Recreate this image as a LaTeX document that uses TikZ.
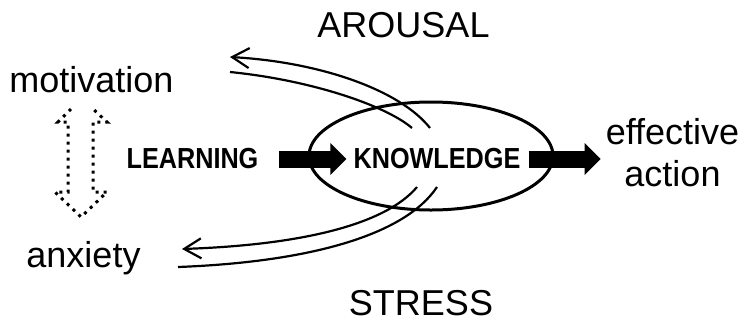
\documentclass[tikz,border=0pt]{standalone}
\usepackage{fontspec}
\setmainfont{Liberation Sans}
\newfontfamily\narrowsans[FakeStretch=0.87]{Liberation Sans}
\usetikzlibrary{arrows.meta,shapes.geometric}
\begin{document}
\begin{tikzpicture}[x=1pt,y=-1pt,
  label/.style={inner sep=0pt,anchor=base,font=\fontsize{36}{41.4}\selectfont},
  keyword/.style={inner sep=0pt,anchor=base,font=\narrowsans\bfseries\fontsize{29}{30}\selectfont},
  blockarrow/.style={line width=17pt,-{Triangle[length=16pt,width=31pt]}},
  swing/.style={line width=2.2pt},
  swingtip/.style={swing,-{Straight Barb[length=17pt,width=20pt,line width=2.2pt]}},
  dots/.style={line width=3pt,dash pattern=on 3pt off 5pt,line join=miter}]
\useasboundingbox (0,0) rectangle (745,325);

% labels
\node[label] (arousal) at (403.5,37) {AROUSAL};
\node[label] (stress) at (421,315) {STRESS};
\node[label] (motivation) at (91.5,92) {motivation};
\node[label] (anxiety) at (83.5,267) {anxiety};
\node[label,align=center] (effect) at (672.5,186) {effective\\action};

% central ring and key words
\node[draw,ellipse,line width=3pt,inner sep=0pt,minimum width=244pt,minimum height=108pt] (ring) at (431,156) {};
\node[keyword] (learning) at (192.5,168) {LEARNING};
\node[keyword] (knowtext) at (437,168) {KNOWLEDGE};

% block arrows
\draw[blockarrow,shorten <=20pt,shorten >=7pt] ([yshift=-1pt]learning.east) -- ([yshift=-1pt]knowtext.west);
\draw[blockarrow,shorten <=8pt] ([yshift=-1pt]knowtext.east) -- ([xshift=-5pt,yshift=-1pt]knowtext.east -| effect.west);

% swinging arcs towards arousal
\coordinate (au1) at (430,128);
\coordinate (au2) at (412,128);
\coordinate (at1) at (230,57);
\coordinate (at2) at (230,72);
\draw[swingtip] (au1) .. controls (400,90) and (320,62) .. (at1);
\draw[swing] (au2) .. controls (385,105) and (310,80) .. (at2);

% swinging arcs towards stress
\coordinate (sl1) at (417,187);
\coordinate (sl2) at (437,187);
\coordinate (st1) at (182,249);
\coordinate (st2) at (178,267);
\draw[swingtip] (sl1) .. controls (385,225) and (300,245) .. (st1);
\draw[swing] (sl2) .. controls (405,235) and (310,262) .. (st2);

% dotted two-way arrow between motivation and anxiety
\draw[dots] (71,109) -- (58,122) -- (68,122) -- (68,192) -- (55,192) -- (81,217)
  -- (107,192) -- (93,192) -- (93,122) -- (107,122) -- (92,108);
\end{tikzpicture}
\end{document}
